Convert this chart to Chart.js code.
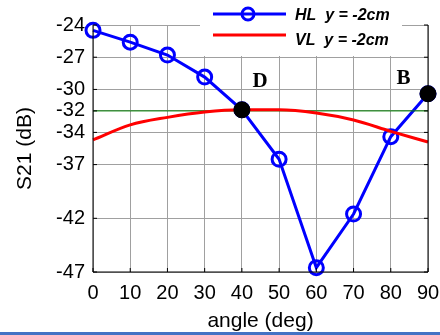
<!DOCTYPE html>
<html>
<head>
<meta charset="utf-8">
<script src="https://cdn.jsdelivr.net/npm/chart.js@4.4.1/dist/chart.umd.min.js"></script>
<style>
  html, body { margin: 0; padding: 0; background: #fff; }
  #wrap { position: relative; width: 440px; height: 335px; }
  #bar { position: absolute; left: 0; bottom: 0; width: 440px; height: 3px; background: #4472c4; }
</style>
</head>
<body>
<div id="wrap">
  <canvas id="myChart" width="440" height="335"></canvas>
  <div id="bar"></div>
</div>
<script>
// angles (deg)
const angles = [0, 10, 20, 30, 40, 50, 60, 70, 80, 90];
// S21 values
const hlValues = [-24.5, -25.6, -26.8, -28.85, -31.9, -36.5, -46.6, -41.6, -34.4, -30.4];
const vlValues = [-34.7, -33.3, -32.6, -32.1, -31.9, -31.9, -32.2, -32.85, -33.9, -34.9];
const refLevel = -32;
// highlighted points + their letters
const markX = [40, 90];
const markY = [-31.9, -30.4];
const markText = ["D", "B"];
const markTextX = [44.9, 83.4];
const markTextY = [-29.3, -29.0];
// tick labels
const xTicks = [0, 10, 20, 30, 40, 50, 60, 70, 80, 90];
const yTicks = [-24, -27, -30, -32, -34, -37, -42, -47];
const legendNames = ["HL  y = -2cm", "VL  y = -2cm"];

const toPts = (xs, ys) => xs.map((x, i) => ({ x: x, y: ys[i] }));

const data = {
  datasets: [
    {
      label: legendNames[0],
      data: toPts(angles, hlValues),
      borderColor: "#0000ff",
      borderWidth: 3,
      pointRadius: 7,
      pointBorderWidth: 3,
      pointBackgroundColor: "rgba(0,0,0,0)",
      pointBorderColor: "#0000ff",
      tension: 0,
      order: 3,
    },
    {
      label: legendNames[1],
      data: toPts(angles, vlValues),
      borderColor: "#ff0000",
      borderWidth: 3,
      pointRadius: 0,
      cubicInterpolationMode: "monotone",
      order: 1,
    },
    {
      label: "ref",
      data: [{ x: angles[0], y: refLevel }, { x: angles[angles.length - 1], y: refLevel }],
      borderColor: "#008000",
      borderWidth: 1,
      pointRadius: 0,
      order: 2,
    },
    {
      label: "marks",
      data: toPts(markX, markY),
      showLine: false,
      pointRadius: 8,
      pointBackgroundColor: "#000",
      pointBorderColor: "#000",
      order: 0,
    },
  ],
};

// frame, inner ticks, legend and letters
const extras = {
  id: "extras",
  afterDatasetsDraw(chart) {
    const ctx = chart.ctx;
    const a = chart.chartArea;
    const xs = chart.scales.x;
    const ys = chart.scales.y;
    ctx.save();
    // frame
    ctx.strokeStyle = "#000";
    ctx.lineWidth = 1;
    ctx.beginPath();
    ctx.moveTo(a.left, a.top);
    ctx.lineTo(a.left, a.bottom);
    ctx.lineTo(a.right, a.bottom);
    ctx.lineTo(a.right, a.top);
    ctx.stroke();
    // inner tick marks
    ctx.beginPath();
    xTicks.forEach((t) => {
      const px = xs.getPixelForValue(t);
      ctx.moveTo(px, a.bottom);
      ctx.lineTo(px, a.bottom - 4);
    });
    yTicks.forEach((t) => {
      const py = ys.getPixelForValue(t);
      ctx.moveTo(a.left, py);
      ctx.lineTo(a.left + 4, py);
      ctx.moveTo(a.right, py);
      ctx.lineTo(a.right - 4, py);
    });
    ctx.stroke();
    // letters
    ctx.fillStyle = "#000";
    ctx.font = "bold 21px 'Liberation Serif', 'DejaVu Serif', serif";
    ctx.textAlign = "center";
    ctx.textBaseline = "middle";
    markText.forEach((s, i) => {
      ctx.fillText(s, xs.getPixelForValue(markTextX[i]), ys.getPixelForValue(markTextY[i]));
    });
    // legend box
    ctx.fillStyle = "#fff";
    ctx.fillRect(200, 0, 202, 56);
    ctx.lineWidth = 3;
    ctx.strokeStyle = "#0000ff";
    ctx.beginPath();
    ctx.moveTo(213, 14);
    ctx.lineTo(286, 14);
    ctx.stroke();
    ctx.beginPath();
    ctx.arc(248, 14, 6, 0, Math.PI * 2);
    ctx.stroke();
    ctx.strokeStyle = "#ff0000";
    ctx.beginPath();
    ctx.moveTo(213, 35);
    ctx.lineTo(286, 35);
    ctx.stroke();
    ctx.fillStyle = "#000";
    ctx.font = "italic bold 16px 'Liberation Sans', Arial, sans-serif";
    ctx.textAlign = "left";
    ctx.fillText(legendNames[0], 295, 16);
    ctx.fillText(legendNames[1], 295, 41);
    ctx.restore();
  },
};

const config = {
  type: "line",
  data: data,
  options: {
    responsive: false,
    animation: false,
    layout: { padding: { top: 25, right: 12, left: 0, bottom: 0 } },
    plugins: { legend: { display: false }, tooltip: { enabled: false } },
    elements: { point: { hoverRadius: 7 } },
    datasets: { line: { clip: false } },
    scales: {
      x: {
        type: "linear",
        min: 0,
        max: 90,
        afterBuildTicks: (s) => { s.ticks = xTicks.map((v) => ({ value: v })); },
        afterFit: (s) => { s.height = 63; s.paddingLeft = 0; s.paddingRight = 0; },
        grid: { color: "#a0a0a0", drawTicks: false },
        border: { display: false },
        ticks: { color: "#000", padding: 9, font: { family: "'Liberation Sans', Arial", size: 20 }, maxRotation: 0 },
        title: { display: true, text: "angle (deg)", color: "#000", padding: { top: 0, bottom: 1 }, font: { family: "'Liberation Sans', Arial", size: 21 } },
      },
      y: {
        type: "linear",
        min: -47,
        max: -24,
        afterBuildTicks: (s) => { s.ticks = yTicks.map((v) => ({ value: v })); },
        afterFit: (s) => { s.width = 93; s.paddingTop = 0; s.paddingBottom = 0; },
        grid: { color: "#a0a0a0", drawTicks: false },
        border: { display: false },
        ticks: { color: "#000", padding: 8, font: { family: "'Liberation Sans', Arial", size: 20 }, autoSkip: false },
        title: { display: true, text: "S21 (dB)", color: "#000", padding: { top: 13, bottom: 0 }, font: { family: "'Liberation Sans', Arial", size: 21 } },
      },
    },
  },
  plugins: [extras],
};

const context = document.getElementById("myChart").getContext("2d");
const chart = new Chart(context, config);
</script>
</body>
</html>
